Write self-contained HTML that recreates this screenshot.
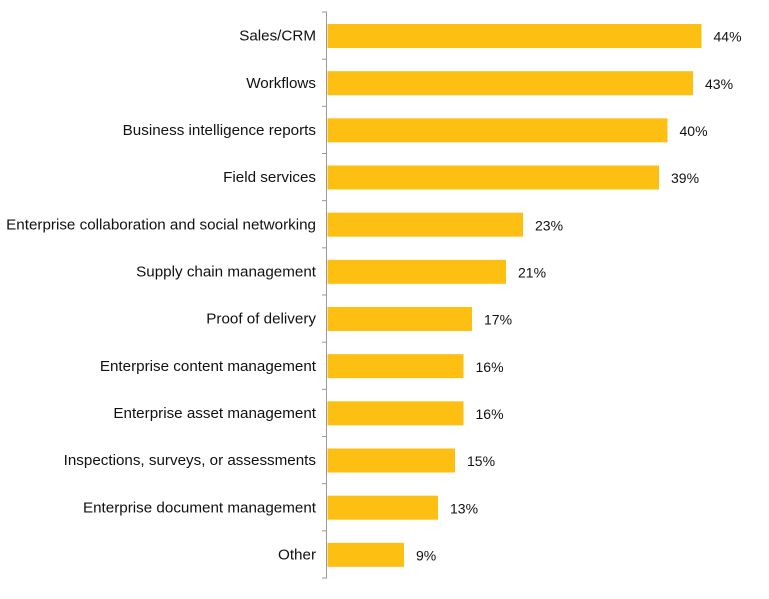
<!DOCTYPE html>
<html><head><meta charset="utf-8"><style>
body{margin:0;background:#fff;}
svg text{font-family:"Liberation Sans",sans-serif;font-size:14px;fill:#111;}
svg g.l text{font-size:15.2px;}
</style></head><body>
<svg width="769" height="594" xmlns="http://www.w3.org/2000/svg">
<g fill="#FCBF12">
<rect x="327.5" y="24" width="374" height="24"/>
<rect x="327.5" y="71.17" width="365.5" height="24"/>
<rect x="327.5" y="118.33" width="340" height="24"/>
<rect x="327.5" y="165.5" width="331.5" height="24"/>
<rect x="327.5" y="212.67" width="195.5" height="24"/>
<rect x="327.5" y="259.83" width="178.5" height="24"/>
<rect x="327.5" y="307" width="144.5" height="24"/>
<rect x="327.5" y="354.17" width="136" height="24"/>
<rect x="327.5" y="401.33" width="136" height="24"/>
<rect x="327.5" y="448.5" width="127.5" height="24"/>
<rect x="327.5" y="495.67" width="110.5" height="24"/>
<rect x="327.5" y="542.83" width="76.5" height="24"/>
</g>
<g stroke="#999" stroke-width="1">
<line x1="326.5" y1="12" x2="326.5" y2="578"/>
<line x1="322" x2="327" y1="12" y2="12"/>
<line x1="322" x2="327" y1="59.17" y2="59.17"/>
<line x1="322" x2="327" y1="106.33" y2="106.33"/>
<line x1="322" x2="327" y1="153.5" y2="153.5"/>
<line x1="322" x2="327" y1="200.67" y2="200.67"/>
<line x1="322" x2="327" y1="247.83" y2="247.83"/>
<line x1="322" x2="327" y1="295" y2="295"/>
<line x1="322" x2="327" y1="342.17" y2="342.17"/>
<line x1="322" x2="327" y1="389.33" y2="389.33"/>
<line x1="322" x2="327" y1="436.5" y2="436.5"/>
<line x1="322" x2="327" y1="483.67" y2="483.67"/>
<line x1="322" x2="327" y1="530.83" y2="530.83"/>
<line x1="322" x2="327" y1="578" y2="578"/>
</g>
<g text-anchor="end" class="l">
<text x="316" y="40.6">Sales/CRM</text>
<text x="316" y="87.75">Workflows</text>
<text x="316" y="134.9">Business intelligence reports</text>
<text x="316" y="182.1">Field services</text>
<text x="316" y="229.25">Enterprise collaboration and social networking</text>
<text x="316" y="276.4">Supply chain management</text>
<text x="316" y="323.6">Proof of delivery</text>
<text x="316" y="370.75">Enterprise content management</text>
<text x="316" y="417.9">Enterprise asset management</text>
<text x="316" y="465.1">Inspections, surveys, or assessments</text>
<text x="316" y="512.25">Enterprise document management</text>
<text x="316" y="559.4">Other</text>
</g>
<g>
<text x="713.5" y="41.6">44%</text>
<text x="705" y="88.75">43%</text>
<text x="679.5" y="135.9">40%</text>
<text x="671" y="183.1">39%</text>
<text x="535" y="230.25">23%</text>
<text x="518" y="277.4">21%</text>
<text x="484" y="324.6">17%</text>
<text x="475.5" y="371.75">16%</text>
<text x="475.5" y="418.9">16%</text>
<text x="467" y="466.1">15%</text>
<text x="450" y="513.25">13%</text>
<text x="416" y="560.4">9%</text>
</g>
</svg>
</body></html>
